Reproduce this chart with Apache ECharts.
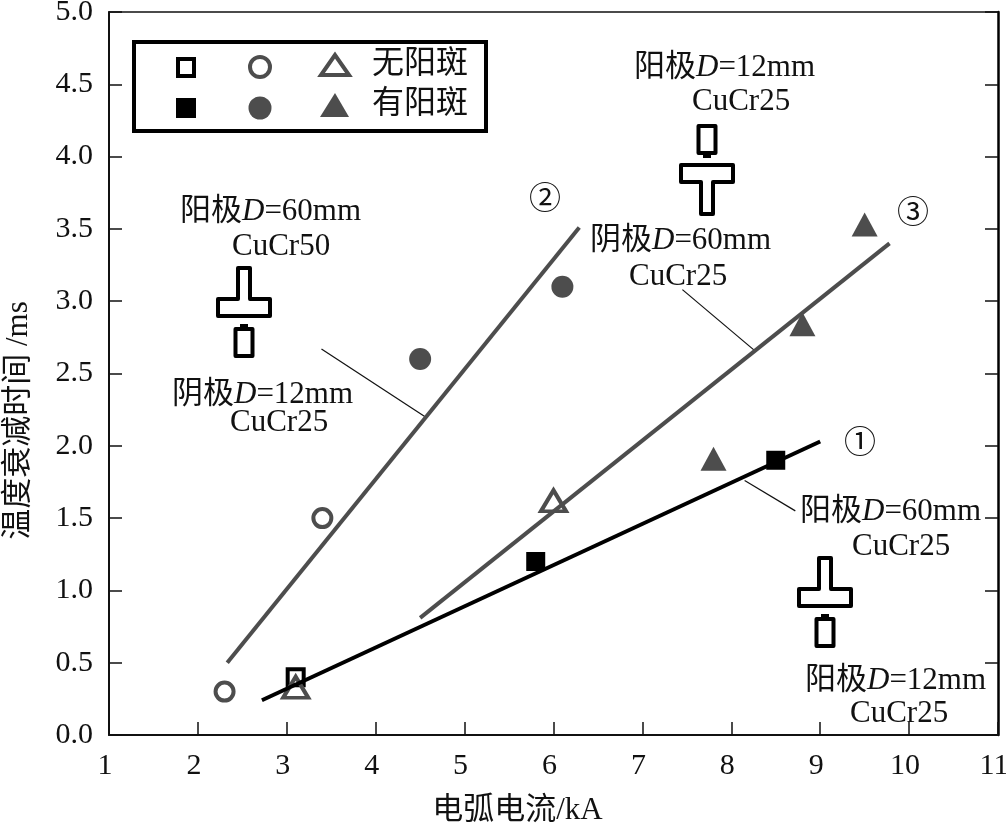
<!DOCTYPE html>
<html>
<head>
<meta charset="utf-8">
<style>html,body{margin:0;padding:0;background:#fff}#chart{width:1006px;height:823px}</style>
<script src="https://cdn.jsdelivr.net/npm/echarts@6/dist/echarts.min.js"></script>
</head>
<body>
<div id="chart"></div>
<script>
// measured points, [current kA, decay time ms]
const squareOpen = [[3.1, 0.4]]
const squareFilled = [[5.8, 1.2], [8.5, 1.9]]
const circleOpen = [[2.3, 0.3], [3.4, 1.5]]
const circleFilled = [[4.5, 2.6], [6.1, 3.1]]
const triangleOpen = [[3.1, 0.33], [6.0, 1.62]]
const triangleFilled = [[7.8, 1.91], [8.8, 2.84], [9.5, 3.53]]

// fitted lines
const line1 = [[2.72, 0.24], [9.0, 2.03]]
const line2 = [[2.33, 0.5], [6.29, 3.51]]
const line3 = [[4.5, 0.81], [9.78, 3.4]]

// thin leader lines from the notes to the fitted lines
const leaderA = [[3.39, 2.67], [4.56, 2.2]]
const leaderB = [[7.45, 3.08], [8.26, 2.66]]
const leaderC = [[8.15, 1.76], [8.72, 1.55]]

const xTitle = '电弧电流/kA'
const yTitle = '温度衰减时间 /ms'
const legendOpen = '无阳斑'
const legendFilled = '有阳斑'

const FONT = '"Liberation Serif","Noto Sans CJK SC",serif'
const DARK = '#4d4d4d'
const INK = '#111'

const scatter = (data, symbol, size, color, filled) => ({
  type: 'scatter',
  data,
  symbol,
  symbolSize: size,
  z: 3,
  itemStyle: filled
    ? { color, opacity: 1 }
    : { color: 'rgba(255,255,255,0)', opacity: 1, borderColor: color, borderWidth: 4 },
})
const fit = (data, color) => ({
  type: 'line',
  data,
  symbol: 'none',
  z: 4,
  lineStyle: { color, width: 4, cap: 'butt' },
})
const leader = (data) => ({
  type: 'line',
  data,
  symbol: 'none',
  z: 2,
  lineStyle: { color: '#111', width: 1.2 },
})

// two line note, the first line has an italic D
const note = (x, y, head, tail, sub, subX, subY) => [
  {
    type: 'text',
    x,
    y,
    style: {
      text: `{c|${head}}{i|D}{c|${tail}}`,
      rich: {
        c: { fontFamily: FONT, fontSize: 31, fill: INK },
        i: { fontFamily: FONT, fontStyle: 'italic', fontSize: 31, fill: INK },
      },
    },
  },
  {
    type: 'text',
    x: subX,
    y: subY,
    style: { text: sub, font: `31px ${FONT}`, fill: INK },
  },
]

const outline = { fill: 'none', stroke: '#000', lineWidth: 4, lineJoin: 'round' }

// T shaped electrode (stem up or down) and the small electrode facing it
const electrode = (cx, barTop, up) => {
  const barEnd = barTop + 17
  const near = up ? barEnd : barTop
  const far = up ? barTop : barEnd
  const stemEnd = up ? barTop - 31 : barEnd + 32
  const smallY = up ? barEnd + 13 : barTop - 39
  return [
    {
      type: 'polygon',
      shape: {
        points: [
          [cx - 6, stemEnd], [cx + 6, stemEnd], [cx + 6, far], [cx + 26, far],
          [cx + 26, near], [cx - 26, near], [cx - 26, far], [cx - 6, far],
        ],
      },
      style: outline,
    },
    {
      type: 'rect',
      shape: { x: cx - 8.5, y: smallY, width: 17, height: 27 },
      style: outline,
    },
    {
      type: 'rect',
      shape: { x: cx - 4, y: up ? smallY - 5 : smallY + 27, width: 8, height: 5 },
      style: { fill: '#000' },
    },
  ]
}

const circled = (x, y, t) => ({
  type: 'text',
  x,
  y,
  style: { text: t, font: `32px ${FONT}`, fill: INK },
})

const chart = echarts.init(document.getElementById('chart'), null, { renderer: 'canvas' })
chart.setOption({
  backgroundColor: '#fff',
  animation: false,
  textStyle: { fontFamily: FONT },
  grid: { left: 109, right: 8, top: 12, bottom: 88, outerBoundsMode: 'none' },
  xAxis: [
    {
      type: 'value',
      min: 1,
      max: 11,
      interval: 1,
      name: xTitle,
      nameLocation: 'middle',
      nameGap: 60,
      nameTextStyle: { fontFamily: FONT, fontSize: 31, color: INK, padding: [0, 72, 0, 0] },
      splitLine: { show: false },
      axisLine: { onZero: false, lineStyle: { color: '#111', width: 2 } },
      axisTick: { inside: true, length: 13, lineStyle: { color: '#111', width: 1.5 } },
      axisLabel: { fontFamily: FONT, fontSize: 30, color: INK, margin: 16, padding: [0, 8, 0, 0] },
    },
    {
      type: 'value',
      position: 'top',
      min: 1,
      max: 11,
      interval: 1,
      splitLine: { show: false },
      axisLine: { show: true, onZero: false, lineStyle: { color: '#111', width: 1.5 } },
      axisTick: { show: false },
      axisLabel: { show: false },
    },
  ],
  yAxis: [
    {
      type: 'value',
      min: 0,
      max: 5,
      interval: 0.5,
      name: yTitle,
      nameLocation: 'middle',
      nameGap: 75,
      nameTextStyle: { fontFamily: FONT, fontSize: 31, color: INK, padding: [0, 94, 0, 0] },
      splitLine: { show: false },
      axisLine: { show: true, onZero: false, lineStyle: { color: '#111', width: 2 } },
      axisTick: { inside: true, length: 13, lineStyle: { color: '#111', width: 1.5 } },
      axisLabel: {
        fontFamily: FONT, fontSize: 30, color: INK, margin: 16,
        formatter: (v) => v.toFixed(1),
      },
    },
    {
      type: 'value',
      position: 'right',
      min: 0,
      max: 5,
      interval: 0.5,
      splitLine: { show: false },
      axisLine: { show: true, onZero: false, lineStyle: { color: '#000', width: 2.5 } },
      axisTick: { inside: true, length: 13, lineStyle: { color: '#111', width: 1.5 } },
      axisLabel: { show: false },
    },
  ],
  series: [
    leader(leaderA), leader(leaderB), leader(leaderC),
    fit(line1, '#000'), fit(line2, DARK), fit(line3, DARK),
    scatter(squareOpen, 'rect', 16, '#000', false),
    scatter(squareFilled, 'rect', 19, '#000', true),
    scatter(circleOpen, 'circle', 18, DARK, false),
    scatter(circleFilled, 'circle', 22, DARK, true),
    scatter(triangleOpen, 'triangle', [25, 21], DARK, false),
    scatter(triangleFilled, 'triangle', [26, 24], DARK, true),
  ],
  graphic: [
    // legend box
    {
      type: 'rect',
      shape: { x: 134, y: 42, width: 352, height: 89 },
      style: { fill: '#fff', stroke: '#000', lineWidth: 4 },
      z: 5,
    },
    { type: 'rect', z: 6, shape: { x: 178, y: 59, width: 16, height: 17 }, style: { fill: '#fff', stroke: '#000', lineWidth: 4 } },
    { type: 'circle', z: 6, shape: { cx: 260, cy: 67, r: 10 }, style: { fill: '#fff', stroke: DARK, lineWidth: 4 } },
    { type: 'polygon', z: 6, shape: { points: [[335, 55], [321, 75], [349, 75]] }, style: { fill: '#fff', stroke: DARK, lineWidth: 4 } },
    { type: 'rect', z: 6, shape: { x: 176, y: 98, width: 20, height: 20 }, style: { fill: '#000' } },
    { type: 'circle', z: 6, shape: { cx: 260, cy: 108, r: 11.5 }, style: { fill: DARK } },
    { type: 'polygon', z: 6, shape: { points: [[335, 93], [320, 117], [349, 117]] }, style: { fill: DARK } },
    { type: 'text', z: 6, x: 372, y: 49, style: { text: legendOpen, font: `32px ${FONT}`, fill: INK } },
    { type: 'text', z: 6, x: 372, y: 89, style: { text: legendFilled, font: `32px ${FONT}`, fill: INK } },

    ...note(180, 196, '阳极', '=60mm', 'CuCr50', 232, 231),
    ...note(172, 379, '阴极', '=12mm', 'CuCr25', 230, 407),
    ...note(634, 52, '阳极', '=12mm', 'CuCr25', 692, 86),
    ...note(590, 225, '阴极', '=60mm', 'CuCr25', 629, 261),
    ...note(800, 496, '阳极', '=60mm', 'CuCr25', 852, 531),
    ...note(805, 665, '阳极', '=12mm', 'CuCr25', 850, 698),

    ...electrode(244, 299, true),
    ...electrode(707, 165, false),
    ...electrode(825, 589, true),

    circled(529, 185, '②'),
    circled(897, 199, '③'),
    circled(844, 429, '①'),
  ],
})
</script>
</body>
</html>
